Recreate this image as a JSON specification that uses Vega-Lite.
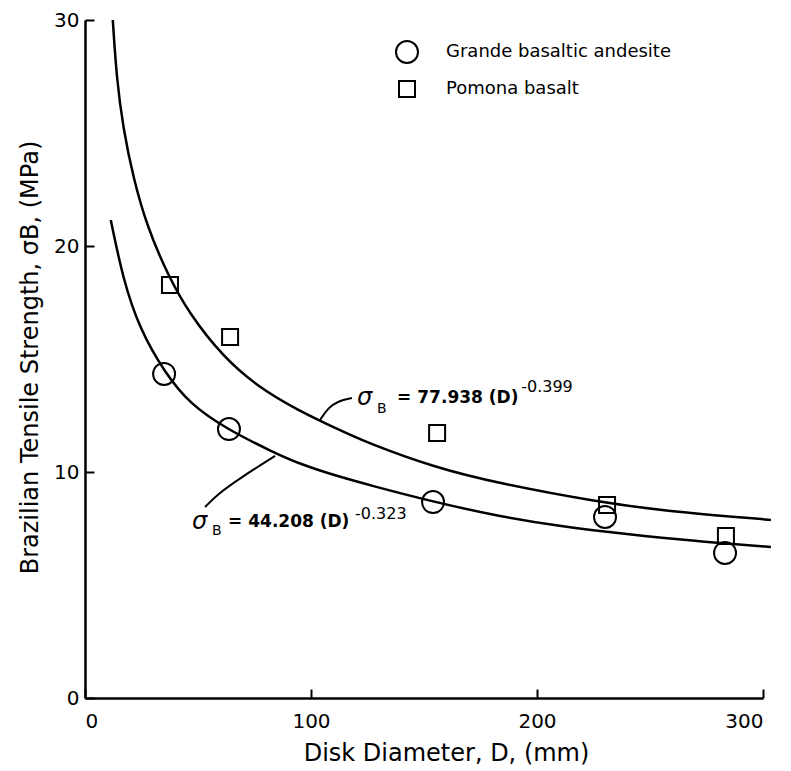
{
  "$schema": "https://vega.github.io/schema/vega-lite/v6.json",
  "width": 678,
  "height": 678,
  "autosize": {"type": "none"},
  "padding": {"left": 85, "top": 20, "right": 28, "bottom": 73},
  "background": "white",
  "config": {
    "view": {"stroke": null},
    "font": "DejaVu Sans",
    "axis": {"grid": false, "domainColor": "#000", "tickColor": "#000", "labelColor": "#000", "titleColor": "#000", "domainWidth": 2.5, "tickWidth": 2, "titleFontWeight": "normal"}
  },
  "datasets": {
    "points": [
      {"D": 35.0, "S": 14.34, "series": "Grande basaltic andesite"},
      {"D": 63.7, "S": 11.90, "series": "Grande basaltic andesite"},
      {"D": 154.0, "S": 8.67, "series": "Grande basaltic andesite"},
      {"D": 230.1, "S": 8.01, "series": "Grande basaltic andesite"},
      {"D": 283.2, "S": 6.42, "series": "Grande basaltic andesite"},
      {"D": 37.6, "S": 18.27, "series": "Pomona basalt"},
      {"D": 64.2, "S": 15.97, "series": "Pomona basalt"},
      {"D": 155.8, "S": 11.73, "series": "Pomona basalt"},
      {"D": 231.0, "S": 8.54, "series": "Pomona basalt"},
      {"D": 283.6, "S": 7.17, "series": "Pomona basalt"}
    ],
    "curves": [
      {"curve": "upper", "D": 12.3, "S": 30.0},
      {"curve": "upper", "D": 14.0, "S": 27.4},
      {"curve": "upper", "D": 16.9, "S": 25.2},
      {"curve": "upper", "D": 21.4, "S": 23.0},
      {"curve": "upper", "D": 27.3, "S": 20.9},
      {"curve": "upper", "D": 36.7, "S": 18.7},
      {"curve": "upper", "D": 46.5, "S": 16.95},
      {"curve": "upper", "D": 61.1, "S": 15.1},
      {"curve": "upper", "D": 76.1, "S": 13.8},
      {"curve": "upper", "D": 93.8, "S": 12.75},
      {"curve": "upper", "D": 112.8, "S": 11.85},
      {"curve": "upper", "D": 124.8, "S": 11.3},
      {"curve": "upper", "D": 154.0, "S": 10.22},
      {"curve": "upper", "D": 183.6, "S": 9.48},
      {"curve": "upper", "D": 227.9, "S": 8.66},
      {"curve": "upper", "D": 254.4, "S": 8.3},
      {"curve": "upper", "D": 303.5, "S": 7.88},
      {"curve": "lower", "D": 11.4, "S": 21.15},
      {"curve": "lower", "D": 16.9, "S": 18.5},
      {"curve": "lower", "D": 24.3, "S": 16.3},
      {"curve": "lower", "D": 35.4, "S": 14.38},
      {"curve": "lower", "D": 46.5, "S": 13.0},
      {"curve": "lower", "D": 62.7, "S": 11.9},
      {"curve": "lower", "D": 83.2, "S": 10.88},
      {"curve": "lower", "D": 95.1, "S": 10.35},
      {"curve": "lower", "D": 112.8, "S": 9.78},
      {"curve": "lower", "D": 124.8, "S": 9.45},
      {"curve": "lower", "D": 154.0, "S": 8.68},
      {"curve": "lower", "D": 183.6, "S": 8.03},
      {"curve": "lower", "D": 210.2, "S": 7.6},
      {"curve": "lower", "D": 239.8, "S": 7.25},
      {"curve": "lower", "D": 269.0, "S": 6.95},
      {"curve": "lower", "D": 303.5, "S": 6.68}
    ],
    "leaders": [
      {"id": "upper", "D": 104.0, "S": 12.3},
      {"id": "upper", "D": 107.5, "S": 12.83},
      {"id": "upper", "D": 111.9, "S": 13.14},
      {"id": "upper", "D": 118.1, "S": 13.27},
      {"id": "lower", "D": 84.1, "S": 10.71},
      {"id": "lower", "D": 68.6, "S": 9.73},
      {"id": "lower", "D": 58.8, "S": 9.03},
      {"id": "lower", "D": 53.1, "S": 8.45}
    ],
    "sigma": [
      {"D": 120.4, "S": 13.27, "label": "σ"},
      {"D": 47.3, "S": 7.79, "label": "σ"}
    ],
    "subs": [
      {"D": 129.2, "S": 12.8, "label": "B"},
      {"D": 56.2, "S": 7.38, "label": "B"}
    ],
    "mains": [
      {"D": 138.1, "S": 13.27, "label": "= 77.938 (D)"},
      {"D": 63.3, "S": 7.79, "label": "= 44.208 (D)"}
    ],
    "sups": [
      {"D": 193.0, "S": 13.76, "label": "-0.399"},
      {"D": 119.5, "S": 8.14, "label": "-0.323"}
    ]
  },
  "encoding": {
    "x": {
      "field": "D", "type": "quantitative",
      "scale": {"domain": [0, 300], "nice": false, "zero": true},
      "axis": {
        "values": [0, 100, 200, 300],
        "title": "Disk Diameter, D, (mm)",
        "tickSize": -9,
        "labelPadding": 22,
        "labelFontSize": 20,
        "titleFontSize": 24,
        "titleX": 361,
        "titleY": 55,
        "titleBaseline": "middle",
        "titleAlign": "center"
      }
    },
    "y": {
      "field": "S", "type": "quantitative",
      "scale": {"domain": [0, 30], "nice": false, "zero": true},
      "axis": {
        "values": [0, 10, 20, 30],
        "title": "Brazilian Tensile Strength, σB, (MPa)",
        "tickSize": -9,
        "labelPadding": 15,
        "labelFontSize": 20,
        "titleFontSize": 24,
        "titleAngle": -90,
        "titleX": -55,
        "titleY": 337,
        "titleBaseline": "middle",
        "titleAlign": "center"
      }
    }
  },
  "layer": [
    {
      "data": {"name": "curves"},
      "mark": {"type": "line", "color": "#000", "strokeWidth": 2.5, "interpolate": "basis"},
      "encoding": {"detail": {"field": "curve", "type": "nominal"}}
    },
    {
      "data": {"name": "leaders"},
      "mark": {"type": "line", "color": "#000", "strokeWidth": 2, "interpolate": "basis"},
      "encoding": {"detail": {"field": "id", "type": "nominal"}}
    },
    {
      "data": {"name": "points"},
      "mark": {"type": "point", "filled": false, "color": "#000", "strokeWidth": 2, "opacity": 1},
      "encoding": {
        "shape": {
          "field": "series", "type": "nominal",
          "scale": {"domain": ["Grande basaltic andesite", "Pomona basalt"], "range": ["circle", "square"]},
          "legend": {
            "orient": "none", "legendX": 310, "legendY": 20, "title": null,
            "labelFontSize": 18, "labelColor": "#000", "labelOffset": 27, "labelLimit": 0,
            "rowPadding": 10, "symbolStrokeWidth": 2, "symbolStrokeColor": "#000", "padding": 0
          }
        },
        "size": {
          "field": "series", "type": "nominal",
          "scale": {"domain": ["Grande basaltic andesite", "Pomona basalt"], "range": [484, 256]},
          "legend": {
            "orient": "none", "legendX": 310, "legendY": 20, "title": null,
            "labelFontSize": 18, "labelColor": "#000", "labelOffset": 27, "labelLimit": 0,
            "rowPadding": 10, "symbolStrokeWidth": 2, "symbolStrokeColor": "#000", "padding": 0
          }
        }
      }
    },
    {
      "data": {"name": "sigma"},
      "mark": {"type": "text", "align": "left", "baseline": "middle", "fontSize": 24, "color": "#000", "fontStyle": "italic"},
      "encoding": {"text": {"field": "label", "type": "nominal"}}
    },
    {
      "data": {"name": "subs"},
      "mark": {"type": "text", "align": "left", "baseline": "middle", "fontSize": 14, "color": "#000"},
      "encoding": {"text": {"field": "label", "type": "nominal"}}
    },
    {
      "data": {"name": "mains"},
      "mark": {"type": "text", "align": "left", "baseline": "middle", "fontSize": 17, "fontWeight": 600, "color": "#000"},
      "encoding": {"text": {"field": "label", "type": "nominal"}}
    },
    {
      "data": {"name": "sups"},
      "mark": {"type": "text", "align": "left", "baseline": "middle", "fontSize": 16, "color": "#000"},
      "encoding": {"text": {"field": "label", "type": "nominal"}}
    }
  ]
}
